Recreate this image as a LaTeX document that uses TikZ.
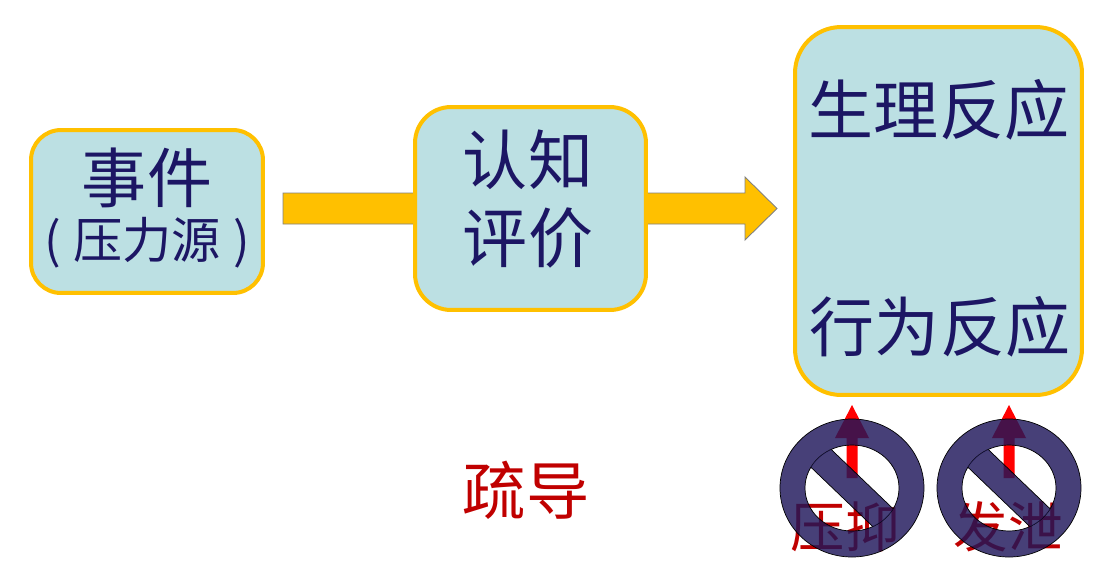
\documentclass[tikz,border=0pt]{standalone}
\usepackage{fontspec}
\setmainfont{Noto Sans CJK SC}
\usetikzlibrary{calc}
\definecolor{boxfill}{RGB}{188,224,227}
\definecolor{boxline}{RGB}{255,192,0}
\definecolor{navy}{RGB}{28,22,100}
\definecolor{darkred}{RGB}{192,0,0}
\definecolor{ringblue}{RGB}{30,22,90}
\tikzset{
  stagebox/.style={draw=boxline, fill=boxfill, line width=0.08cm, rectangle, inner sep=0pt},
  stagetext/.style={text=navy, inner sep=0pt, font=\fontsize{37}{40}\selectfont},
  redtext/.style={text=darkred, inner sep=0pt, font=\fontsize{31}{34}\selectfont},
  ringpart/.style={fill=ringblue, fill opacity=0.82, draw=black, line width=0.4pt},
}
\begin{document}
\begin{tikzpicture}[x=0.02cm,y=-0.02cm]
  \useasboundingbox (0,0) rectangle (1117,579);
  \coordinate (flowstart) at (283,208.5);
  \coordinate (flowtip) at (777,208.5);
  \draw[fill=boxline, draw=gray, line width=0.5pt]
    ($(flowstart)+(0,-15.5)$) -- ($(flowtip)+(-32,-15.5)$) -- ($(flowtip)+(-32,-31.5)$)
    -- (flowtip) -- ($(flowtip)+(-32,31.5)$) -- ($(flowtip)+(-32,15.5)$)
    -- ($(flowstart)+(0,15.5)$) -- cycle;
  \node[stagebox, rounded corners=0.6cm, minimum width=4.64cm, minimum height=3.26cm] (event) at (147,211.5) {};
  \node[stagebox, rounded corners=0.72cm, minimum width=4.62cm, minimum height=4.06cm] (appraisal) at (530.5,208.5) {};
  \node[stagebox, rounded corners=0.92cm, minimum width=5.74cm, minimum height=7.36cm] (response) at (938.5,211) {};
  \node[stagetext] (eventname) at (147,178) {事件};
  \node[stagetext, font=\fontsize{28}{30}\selectfont] (stressor) at (147,243) {(\hspace{0.25em}压力源\hspace{0.25em})};
  \node[stagetext] (cognition) at (528,160) {认知};
  \node[stagetext] (evaluation) at (528,238) {评价};
  \node[stagetext] (physio) at (939,110) {生理反应};
  \node[stagetext] (behav) at (940,327) {行为反应};
  \node[redtext, font=\fontsize{36}{38}\selectfont] (guide) at (526,490) {疏导};
  \foreach \cx/\tx/\word/\id in {852/845/压抑/A, 1009/1008/发泄/B} {
    \coordinate (base\id) at (\cx,478);
    \coordinate (tip\id) at (\cx,405);
    \fill[red] ($(base\id)+(-5.5,0)$) -- ($(tip\id)+(-5.5,33)$) -- ($(tip\id)+(-17,33)$)
      -- (tip\id) -- ($(tip\id)+(17,33)$) -- ($(tip\id)+(5.5,33)$) -- ($(base\id)+(5.5,0)$) -- cycle;
    \node[redtext] (word\id) at (\tx,527) {\word};
    \coordinate (stop\id) at (\cx,488);
    \path[ringpart, even odd rule] (stop\id) ellipse [x radius=72, y radius=69]
      (stop\id) ellipse [x radius=47, y radius=43];
    \begin{scope}
      \clip (stop\id) ellipse [x radius=47, y radius=43];
      \path[ringpart] ($(stop\id)+(33.9,51.1)$) -- ($(stop\id)+(52.5,31.7)$)
        -- ($(stop\id)+(-33.9,-51.1)$) -- ($(stop\id)+(-52.5,-31.7)$) -- cycle;
    \end{scope}
  }
\end{tikzpicture}
\end{document}
